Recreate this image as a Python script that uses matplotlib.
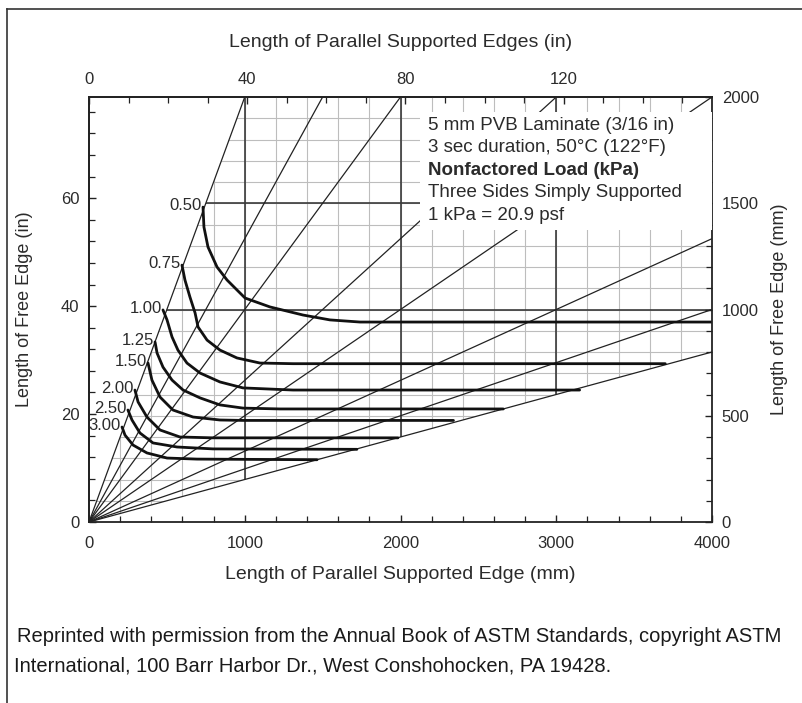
import matplotlib
matplotlib.use("Agg")
import matplotlib.pyplot as plt
from matplotlib.patches import Polygon, Rectangle
from matplotlib.lines import Line2D
from matplotlib.ticker import MultipleLocator, FixedLocator

plt.rcParams['font.family'] = ['Liberation Sans', 'DejaVu Sans']

# nonfactored load curves (kPa), points in mm
load_labels = ['0.50', '0.75', '1.00', '1.25', '1.50', '2.00', '2.50', '3.00']
curve_x = [
    [732, 738, 764, 822, 886, 950, 1002, 1162, 1374, 1547, 1740, 4000],
    [597, 616, 648, 681, 700, 758, 841, 950, 1098, 1310, 1740, 3700],
    [475, 501, 533, 571, 629, 713, 841, 989, 1310, 1740, 3150],
    [424, 437, 475, 533, 604, 713, 841, 989, 1226, 2660],
    [379, 404, 456, 539, 668, 841, 989, 2340],
    [295, 315, 372, 456, 584, 796, 1984],
    [250, 276, 327, 411, 565, 796, 1720],
    [212, 231, 283, 372, 501, 693, 1464],
]
curve_y = [
    [1482, 1388, 1294, 1200, 1139, 1092, 1054, 1012, 974, 951, 941, 941],
    [1209, 1139, 1059, 984, 918, 856, 809, 772, 748, 745, 745, 745],
    [998, 951, 871, 809, 748, 701, 659, 631, 621, 621, 621],
    [847, 795, 729, 668, 621, 584, 551, 536, 532, 532],
    [748, 668, 588, 527, 494, 480, 478, 478],
    [621, 565, 494, 433, 400, 396, 396],
    [527, 480, 419, 372, 353, 344, 342],
    [447, 409, 362, 325, 301, 296, 293],
]

# aspect ratio lines from the origin (free edge / supported edge)
ray_slopes = [2.0, 4 / 3, 1.0, 2 / 3, 0.5, 1 / 3, 0.25, 0.2]

# chart limits in mm
x_max, y_max = 4000, 2000
major_x = [1000, 2000, 3000]
major_y = [1000, 1500]

top_ticks_in = [0, 40, 80, 120]
left_ticks_in = [0, 20, 40, 60]

note_lines = ['5 mm PVB Laminate (3/16 in)',
              '3 sec duration, 50\u00b0C (122\u00b0F)',
              'Nonfactored Load (kPa)',
              'Three Sides Simply Supported',
              '1 kPa = 20.9 psf']

ink = '#2b2b2b'

fig = plt.figure(figsize=(8.02, 7.03), dpi=100)
ax = fig.add_axes([89 / 802, 1 - 522 / 703, 623 / 802, 425 / 703])
ax.set_xlim(0, x_max)
ax.set_ylim(0, y_max)

# region where the grid is drawn
region = Polygon([(0, 0), (x_max / 4, y_max), (x_max, y_max), (x_max, x_max * 0.2)],
                 closed=True, transform=ax.transData, facecolor='none', edgecolor='none')
ax.add_patch(region)

gx = ax.vlines(range(200, x_max, 200), 0, y_max, colors='#bdbdbd', linewidth=0.8, zorder=1)
gy = ax.hlines(range(100, y_max, 100), 0, x_max, colors='#bdbdbd', linewidth=0.8, zorder=1)
mx = ax.vlines(major_x, 0, y_max, colors='#3a3a3a', linewidth=1.2, zorder=1.5)
my = ax.hlines(major_y, 0, x_max, colors='#3a3a3a', linewidth=1.2, zorder=1.5)
for c in (gx, gy, mx, my):
    c.set_clip_path(region)

for s in ray_slopes:
    xe = min(x_max, y_max / s)
    ax.plot([0, xe], [0, xe * s], color='#222222', linewidth=0.9, zorder=2)

for lab, xs, ys in zip(load_labels, curve_x, curve_y):
    ax.plot(xs, ys, color='#111111', linewidth=2.0, zorder=2.5,
            solid_joinstyle='round', solid_capstyle='round')
    ax.annotate(lab, (xs[0], ys[0]), xytext=(-1, 1), textcoords='offset points',
                ha='right', va='center', fontsize=12, color=ink, zorder=4)

# white note box with the chart conditions
ax.add_patch(Rectangle((2125, 1372), x_max - 2125, 1929 - 1372,
                       facecolor='white', edgecolor='none', zorder=3))
for i, line in enumerate(note_lines):
    ax.text(2175, 1868 - i * 106, line, fontsize=13.5, color=ink, va='center',
            fontweight='bold' if i == 2 else 'normal', zorder=4)

# axes: mm bottom / right, inches top / left
ax.yaxis.tick_right()
ax.yaxis.set_label_position('right')
ax.xaxis.set_major_locator(MultipleLocator(1000))
ax.xaxis.set_minor_locator(MultipleLocator(200))
ax.yaxis.set_major_locator(MultipleLocator(500))
ax.yaxis.set_minor_locator(MultipleLocator(100))

top = ax.secondary_xaxis('top', functions=(lambda v: v / 25.4, lambda v: v * 25.4))
left = ax.secondary_yaxis('left', functions=(lambda v: v / 25.4, lambda v: v * 25.4))
top.xaxis.set_major_locator(FixedLocator(top_ticks_in))
top.xaxis.set_minor_locator(FixedLocator(range(10, 160, 10)))
left.yaxis.set_major_locator(FixedLocator(left_ticks_in))
left.yaxis.set_minor_locator(FixedLocator(range(4, 80, 4)))

for a in (ax, top, left):
    a.tick_params(which='major', direction='in', length=5, width=1.0,
                  labelsize=12, labelcolor=ink, color='#222222', pad=7)
    a.tick_params(which='minor', direction='in', length=4, width=0.9, color='#222222')
ax.tick_params(axis='x', which='major', pad=10)
for sp in list(ax.spines.values()) + list(top.spines.values()) + list(left.spines.values()):
    sp.set_linewidth(1.3)
    sp.set_color('#222222')

ax.set_xlabel('Length of Parallel Supported Edge (mm)', fontsize=14, color=ink, labelpad=11)
ax.set_ylabel('Length of Free Edge (mm)', fontsize=13, color=ink, labelpad=9, rotation=90)
top.set_xlabel('Length of Parallel Supported Edges (in)', fontsize=14, color=ink, labelpad=18)
left.set_ylabel('Length of Free Edge (in)', fontsize=13, color=ink, labelpad=20)

# page frame and caption
fig.add_artist(Line2D([7 / 802, 1], [1 - 9 / 703, 1 - 9 / 703], color='#333333', linewidth=1.2))
fig.add_artist(Line2D([7 / 802, 7 / 802], [1 - 9 / 703, 0], color='#333333', linewidth=1.2))
fig.text(17 / 802, 1 - 637 / 703,
         'Reprinted with permission from the Annual Book of ASTM Standards, copyright ASTM',
         fontsize=14.5, color='#1a1a1a', va='center')
fig.text(14 / 802, 1 - 666 / 703,
         'International, 100 Barr Harbor Dr., West Conshohocken, PA 19428.',
         fontsize=14.5, color='#1a1a1a', va='center')

fig.savefig('out.png', dpi=100)
